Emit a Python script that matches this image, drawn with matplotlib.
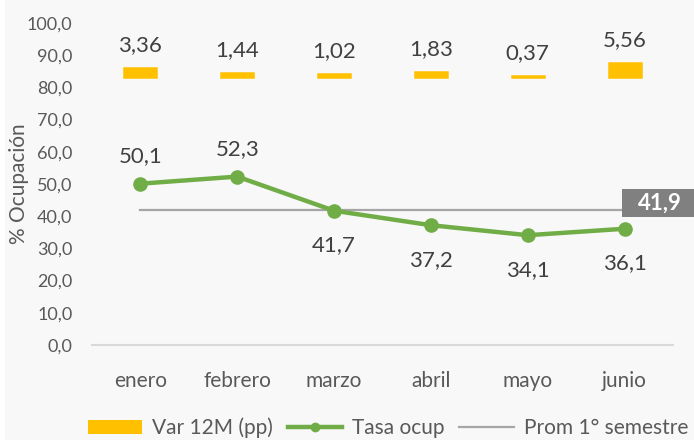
import matplotlib.pyplot as plt
from matplotlib.patches import Rectangle, Patch
from matplotlib.lines import Line2D

plt.rcParams['font.family'] = ['Lato', 'DejaVu Sans']

meses = ['enero', 'febrero', 'marzo', 'abril', 'mayo', 'junio']
tasa = [50.1, 52.3, 41.7, 37.2, 34.1, 36.1]
var12m = [3.36, 1.44, 1.02, 1.83, 0.37, 5.56]
promedio = 41.9

verde = '#70AD47'
naranja = '#FFC000'
gris = '#A6A6A6'
texto = '#404040'

def coma(v, d):
    return f'{v:.{d}f}'.replace('.', ',')

fig = plt.figure(figsize=(6.94, 4.4), dpi=100)
fig.patches.append(Rectangle((5 / 694, 0), 1, 1, transform=fig.transFigure,
                             fc='#F8F8F8', ec='none', zorder=-10))

ax = fig.add_axes([92 / 694, 95 / 440, 581 / 694, 322 / 440])
ax.set_facecolor('none')
x = list(range(len(meses)))

# linea del promedio y su etiqueta
ax.plot([x[0], x[-1]], [promedio, promedio], color=gris, lw=1.6, zorder=2)
ax.add_patch(Rectangle((x[-1] - 0.03, promedio - 2.15), 1, 8.7, fc='#808080',
                       ec='none', clip_on=False, zorder=5))
ax.text(x[-1] + 0.14, promedio + 2.0, coma(promedio, 1), ha='left', va='center',
        color='white', fontsize=16, fontweight='bold', zorder=6)

# tasa de ocupacion
ax.plot(x, tasa, color=verde, lw=3.2, marker='o', ms=9.5, zorder=3)
for i, v in enumerate(tasa):
    dy = 20 if i < 2 else -25
    ax.annotate(coma(v, 1), (i, v), xytext=(0, dy), textcoords='offset points',
                ha='center', va='center', fontsize=16, color=texto)

ax.set_xlim(-0.5, len(meses) - 0.5)
ax.set_ylim(0, 100)
ax.set_yticks(range(0, 101, 10))
ax.set_yticklabels([coma(t, 1) for t in range(0, 101, 10)])
ax.set_xticks(x)
ax.set_xticklabels(meses)
ax.tick_params(axis='both', length=0, colors='#595959', labelsize=13)
ax.tick_params(axis='x', pad=19, labelsize=15)
ax.tick_params(axis='y', pad=14)
for s in ['top', 'right', 'left']:
    ax.spines[s].set_visible(False)
ax.spines['bottom'].set_color('#D9D9D9')
ax.spines['bottom'].set_linewidth(1.5)
ax.set_ylabel('% Ocupación', fontsize=15, color='#595959')
ax.yaxis.set_label_coords(-0.108, 0.5)

# variacion 12 meses (eje secundario oculto)
ax2 = ax.twinx()
ax2.set_ylim(-103, 20.8)
ax2.axis('off')
ax2.bar(x, var12m, width=0.33, color=naranja, ec=naranja, lw=1.8, zorder=3)
for i, v in enumerate(var12m):
    ax2.annotate(coma(v, 2), (i, v), xytext=(0, 16.5), textcoords='offset points',
                 ha='center', va='center', fontsize=16, color=texto)

handles = [Patch(fc=naranja, ec='none'),
           Line2D([], [], color=verde, lw=3.2, marker='o', ms=6),
           Line2D([], [], color=gris, lw=1.6)]
etiquetas = ['Var 12M (pp)', 'Tasa ocup', 'Prom 1° semestre']
fig.legend(handles, etiquetas, loc='center', bbox_to_anchor=(388 / 694, 12 / 440),
           ncol=3, frameon=False, fontsize=15, handlelength=2.6,
           columnspacing=0.7, handletextpad=0.5, labelcolor='#595959')

fig.savefig('out.png', dpi=100)
